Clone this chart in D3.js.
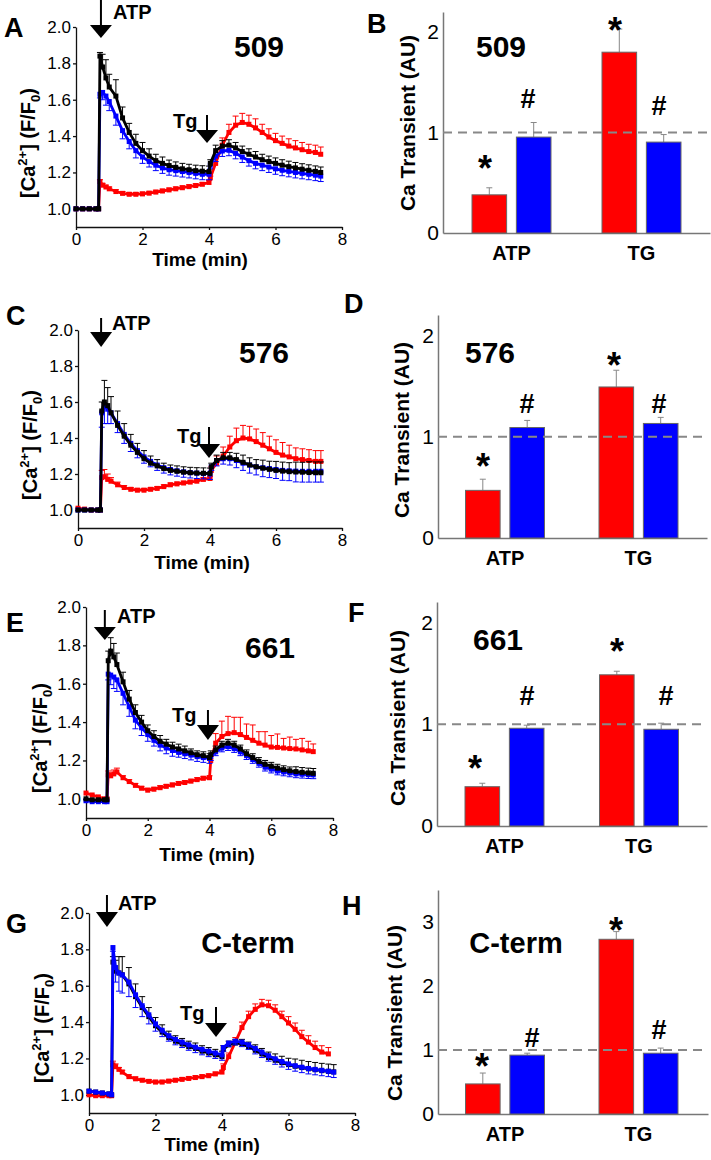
<!DOCTYPE html>
<html><head><meta charset="utf-8">
<script src="https://cdn.jsdelivr.net/npm/d3@7"></script>
<style>body{margin:0;background:#fff}svg{display:block}</style>
</head><body>
<svg id="c" width="711" height="1160"></svg>
<script>
// ---------- DATA ----------
const times = [0,0.2,0.4,0.6,0.68,0.72,0.8,0.9,1.0,1.2,1.4,1.6,1.8,2.0,2.2,2.4,2.6,2.8,3.0,3.2,3.4,3.6,3.8,4.0,4.04,4.2,4.4,4.6,4.8,5.0,5.2,5.4,5.6,5.8,6.0,6.2,6.4,6.6,6.8,7.0,7.2,7.36];
const yTicksLine = [1.0,1.2,1.4,1.6,1.8,2.0];
const xTicksLine = [0,2,4,6,8];

// Panel A (509)
const a509Black = [1.0,1.0,1.0,1.0,1.0, 1.84,1.78,1.72, 1.67,1.62,1.50,1.42,1.36,1.32,1.29,1.265,1.25,1.238,1.228,1.22,1.215,1.21,1.207,1.205, 1.25, 1.32,1.345,1.35,1.335,1.315,1.30,1.285,1.27,1.26,1.25,1.24,1.232,1.225,1.218,1.212,1.206, 1.20];
const a509BlackErr = [0,0,0,0,0, 0.02,0.07,0.10, 0.07,0.09,0.06,0.05,0.05,0.045,0.04,0.035,0.035,0.03,0.03,0.03,0.03,0.03,0.03,0.03, 0.02, 0.03,0.03,0.03,0.03,0.03,0.03,0.03,0.03,0.03,0.03,0.03,0.03,0.03,0.03,0.03,0.03, 0.03];
const a509Blue = [1.0,1.0,1.0,1.0,1.0, 1.63,1.64,1.62, 1.59,1.51,1.43,1.37,1.32,1.285,1.26,1.24,1.225,1.215,1.21,1.205,1.20,1.195,1.19,1.19, 1.24, 1.29,1.318,1.322,1.305,1.285,1.265,1.25,1.24,1.23,1.22,1.212,1.206,1.2,1.195,1.19,1.185, 1.18];
const a509BlueErr = [0,0,0,0,0, 0.02,0.04,0.05, 0.05,0.05,0.045,0.04,0.04,0.035,0.03,0.03,0.03,0.03,0.03,0.03,0.03,0.03,0.03,0.03, 0.02, 0.03,0.03,0.03,0.03,0.03,0.03,0.03,0.03,0.03,0.03,0.03,0.03,0.03,0.03,0.03,0.03, 0.03];
const a509Red = [1.0,1.0,1.0,1.0,1.0, 1.15,1.13,1.12, 1.11,1.095,1.085,1.08,1.08,1.082,1.086,1.092,1.098,1.104,1.11,1.116,1.122,1.128,1.135,1.145, 1.17, 1.25,1.35,1.42,1.46,1.475,1.465,1.445,1.42,1.395,1.375,1.36,1.345,1.335,1.325,1.315,1.31, 1.30];
const a509RedErr = [0,0,0,0,0, 0.01,0.01,0.01, 0.01,0.01,0.01,0.01,0.01,0.01,0.01,0.01,0.01,0.01,0.01,0.01,0.01,0.01,0.01,0.01, 0.01, 0.03,0.04,0.045,0.05,0.05,0.05,0.05,0.045,0.045,0.04,0.04,0.04,0.04,0.04,0.04,0.04, 0.04];

// Panel C (576)
const c576Black = [1.0,1.0,1.0,1.0,1.0, 1.55,1.60,1.58, 1.54,1.47,1.41,1.36,1.32,1.285,1.26,1.245,1.23,1.22,1.215,1.21,1.207,1.205,1.204,1.203, 1.24, 1.275,1.29,1.29,1.28,1.265,1.25,1.24,1.232,1.226,1.22,1.216,1.213,1.211,1.21,1.208,1.207, 1.207];
const c576BlackErr = [0,0,0,0,0, 0.05,0.12,0.10, 0.09,0.08,0.07,0.06,0.05,0.045,0.04,0.035,0.03,0.03,0.03,0.03,0.03,0.03,0.03,0.03, 0.02, 0.03,0.03,0.03,0.035,0.04,0.04,0.04,0.045,0.045,0.05,0.05,0.05,0.055,0.055,0.06,0.06, 0.06];
const c576Blue = [1.0,1.0,1.0,1.0,1.0, 1.54,1.58,1.56, 1.54,1.48,1.42,1.37,1.33,1.295,1.27,1.25,1.235,1.225,1.218,1.212,1.208,1.205,1.203,1.20, 1.24, 1.275,1.285,1.285,1.275,1.26,1.25,1.24,1.235,1.23,1.225,1.22,1.218,1.216,1.215,1.215,1.215, 1.215];
const c576BlueErr = [0,0,0,0,0, 0.08,0.10,0.08, 0.06,0.05,0.05,0.045,0.04,0.035,0.03,0.03,0.03,0.03,0.03,0.03,0.03,0.03,0.03,0.03, 0.02, 0.03,0.03,0.035,0.04,0.04,0.045,0.045,0.05,0.05,0.05,0.055,0.055,0.06,0.06,0.06,0.06, 0.06];
const c576Red = [1.01,1.005,1.0,1.0,1.0, 1.18,1.185,1.17, 1.16,1.14,1.125,1.115,1.11,1.11,1.115,1.12,1.13,1.14,1.145,1.15,1.155,1.16,1.17,1.175, 1.22, 1.26,1.30,1.35,1.385,1.40,1.395,1.38,1.36,1.34,1.32,1.305,1.295,1.285,1.28,1.275,1.27, 1.27];
const c576RedErr = [0,0,0,0,0, 0.04,0.04,0.03, 0.02,0.015,0.01,0.01,0.01,0.01,0.01,0.01,0.01,0.01,0.01,0.01,0.01,0.01,0.01,0.01, 0.02, 0.04,0.05,0.06,0.07,0.07,0.07,0.07,0.07,0.07,0.07,0.07,0.065,0.06,0.06,0.06,0.06, 0.06];

// Panel E (661)
const e661Black = [1.0,0.995,0.995,0.995,0.995, 1.72,1.77,1.74, 1.70,1.61,1.52,1.45,1.40,1.355,1.325,1.30,1.285,1.27,1.26,1.25,1.24,1.23,1.225,1.215, 1.23, 1.255,1.28,1.29,1.28,1.26,1.235,1.215,1.195,1.18,1.17,1.16,1.152,1.146,1.142,1.138,1.135, 1.133];
const e661BlackErr = [0,0,0,0,0, 0.05,0.07,0.07, 0.06,0.05,0.045,0.04,0.035,0.03,0.03,0.03,0.025,0.025,0.025,0.025,0.02,0.02,0.02,0.02, 0.02, 0.02,0.02,0.02,0.02,0.02,0.02,0.02,0.02,0.02,0.02,0.02,0.02,0.02,0.025,0.025,0.025, 0.025];
const e661Blue = [0.99,0.985,0.985,0.985,0.985, 1.65,1.645,1.635, 1.62,1.55,1.48,1.41,1.37,1.335,1.305,1.28,1.265,1.252,1.242,1.235,1.228,1.22,1.215,1.21, 1.22, 1.245,1.265,1.272,1.262,1.245,1.225,1.205,1.185,1.165,1.155,1.145,1.14,1.135,1.13,1.128,1.126, 1.125];
const e661BlueErr = [0,0,0,0,0, 0.03,0.05,0.06, 0.06,0.06,0.05,0.045,0.04,0.035,0.03,0.03,0.03,0.03,0.025,0.025,0.025,0.025,0.025,0.025, 0.02, 0.02,0.02,0.02,0.02,0.02,0.02,0.02,0.02,0.02,0.02,0.02,0.02,0.02,0.02,0.02,0.02, 0.02];
const e661Red = [1.03,1.02,1.01,1.0,1.0, 1.125,1.12,1.13, 1.14,1.11,1.09,1.07,1.055,1.045,1.05,1.058,1.065,1.072,1.08,1.085,1.092,1.10,1.107,1.11, 1.20, 1.29,1.325,1.34,1.345,1.335,1.32,1.305,1.29,1.28,1.27,1.268,1.265,1.262,1.26,1.255,1.25, 1.246];
const e661RedErr = [0,0,0,0,0, 0.02,0.015,0.02, 0.02,0.01,0.01,0.01,0.01,0.01,0.01,0.01,0.01,0.01,0.01,0.01,0.01,0.01,0.01,0.01, 0.02, 0.05,0.08,0.09,0.08,0.09,0.07,0.08,0.06,0.07,0.06,0.07,0.05,0.06,0.05,0.06,0.05, 0.04];

// Panel G (C-term)
const gCtBlack = [1.02,1.015,1.01,1.005,1.0, 1.73,1.68,1.67, 1.66,1.61,1.54,1.48,1.43,1.38,1.345,1.315,1.295,1.28,1.265,1.255,1.24,1.23,1.22,1.21, 1.25, 1.275,1.285,1.28,1.265,1.245,1.225,1.205,1.19,1.177,1.166,1.157,1.15,1.143,1.138,1.133,1.129, 1.126];
const gCtBlackErr = [0,0,0,0,0, 0.03,0.06,0.09, 0.10,0.09,0.07,0.06,0.05,0.045,0.04,0.035,0.03,0.03,0.03,0.03,0.03,0.03,0.03,0.03, 0.02, 0.02,0.02,0.025,0.025,0.03,0.03,0.03,0.035,0.035,0.035,0.04,0.04,0.04,0.04,0.04,0.04, 0.04];
const gCtBlue = [1.02,1.015,1.01,1.005,1.0, 1.81,1.70,1.67, 1.66,1.62,1.55,1.49,1.44,1.39,1.355,1.325,1.305,1.29,1.275,1.262,1.25,1.24,1.23,1.22, 1.26, 1.285,1.295,1.29,1.275,1.255,1.235,1.215,1.198,1.183,1.17,1.16,1.152,1.145,1.14,1.135,1.13, 1.125];
const gCtBlueErr = [0,0,0,0,0, 0.02,0.08,0.10, 0.10,0.08,0.07,0.06,0.05,0.04,0.035,0.03,0.03,0.03,0.03,0.03,0.03,0.03,0.03,0.03, 0.02, 0.02,0.02,0.025,0.025,0.03,0.03,0.03,0.03,0.03,0.03,0.03,0.03,0.03,0.03,0.03,0.03, 0.03];
const gCtRed = [1.0,0.995,0.995,0.995,0.995, 1.165,1.155,1.14, 1.125,1.10,1.088,1.08,1.074,1.07,1.07,1.075,1.08,1.085,1.09,1.095,1.10,1.105,1.115,1.125, 1.15, 1.21,1.29,1.37,1.43,1.47,1.495,1.49,1.465,1.43,1.395,1.36,1.32,1.29,1.26,1.235,1.225, null];
const gCtRedErr = [0,0,0,0,0, 0.02,0.015,0.01, 0.01,0.01,0.01,0.01,0.01,0.01,0.01,0.01,0.01,0.01,0.01,0.01,0.01,0.01,0.01,0.01, 0.02, 0.02,0.025,0.03,0.03,0.03,0.03,0.03,0.03,0.03,0.035,0.035,0.035,0.035,0.035,0.035,0.035, 0];

// Bar charts
const barGroups = ["ATP","TG"];
const b509Red = [0.38, 1.80], b509RedErr = [0.07, 0.23];
const b509Blue = [0.955, 0.905], b509BlueErr = [0.145, 0.075];
const d576Red = [0.47, 1.49], d576RedErr = [0.11, 0.165];
const d576Blue = [1.09, 1.13], d576BlueErr = [0.07, 0.06];
const f661Red = [0.386, 1.485], f661RedErr = [0.034, 0.035];
const f661Blue = [0.96, 0.95], f661BlueErr = [0.03, 0.06];
const hCtRed = [0.47, 2.73], hCtRedErr = [0.17, 0.12];
const hCtBlue = [0.92, 0.95], hCtBlueErr = [0.03, 0.08];
const barTicks3 = [0,1,2], barTicks4 = [0,1,2,3];

// ---------- DRAWING ----------
const FONT = '"Liberation Sans", Arial, Helvetica, sans-serif';
const RED = '#ff0000', BLUE = '#0000ff', BLACK = '#000000';
const svg = d3.select('#c');

function txt(g, x, y, s, size, weight, anchor) {
  return g.append('text').attr('x', x).attr('y', y).text(s)
    .attr('font-family', FONT).attr('font-size', size).attr('font-weight', weight || 'normal')
    .attr('text-anchor', anchor || 'start').attr('fill', '#000');
}
function star(g, cx, cy) { txt(g, cx, cy + 0.58 * 36, '*', 36, 'bold', 'middle'); }
function hash(g, cx, cy) { txt(g, cx, cy + 0.36 * 27, '#', 27, 'bold', 'middle'); }

function arrow(g, xp, top, base, tip) {
  g.append('line').attr('x1', xp).attr('x2', xp).attr('y1', top).attr('y2', base + 1)
    .attr('stroke', '#000').attr('stroke-width', 2);
  g.append('path').attr('d', `M${xp - 11},${base}L${xp + 11},${base}L${xp},${tip}Z`).attr('fill', '#000');
}

function drawLinePanel(L, series) {
  const g = svg.append('g');
  const x = d3.scaleLinear().domain([0, 8]).range([L.x0, L.x8]);
  const y = d3.scaleLinear().domain([0.9, 2.0]).range([L.yBot, L.yTop]);
  const ya = g.append('g').attr('transform', `translate(${L.x0},0)`)
    .call(d3.axisLeft(y).tickValues(yTicksLine).tickFormat(d3.format('.1f')).tickSize(3).tickSizeOuter(0).tickPadding(2));
  const xa = g.append('g').attr('transform', `translate(0,${L.yBot})`)
    .call(d3.axisBottom(x).tickValues(xTicksLine).tickFormat(d3.format('d')).tickSize(3).tickSizeOuter(0).tickPadding(3));
  [ya, xa].forEach(a => {
    a.attr('font-family', FONT).attr('font-size', 17);
    a.selectAll('path,line').attr('stroke', '#111').attr('stroke-width', 1.3);
    a.selectAll('text').attr('fill', '#000');
  });
  series.forEach(s => {
    const pts = times.map((t, i) => ({ t, v: s.values[i], e: s.err[i] })).filter(p => p.v != null);
    const dir = s.down ? -1 : 1;
    const eb = g.append('g').attr('stroke', s.color).attr('stroke-width', 1);
    pts.filter(p => p.e > 0).forEach(p => {
      const xx = x(p.t), y2 = y(p.v + dir * p.e);
      eb.append('line').attr('x1', xx).attr('x2', xx).attr('y1', y(p.v)).attr('y2', y2);
      eb.append('line').attr('x1', xx - 3).attr('x2', xx + 3).attr('y1', y2).attr('y2', y2);
    });
    g.append('path').datum(pts)
      .attr('d', d3.line().x(p => x(p.t)).y(p => y(p.v)))
      .attr('fill', 'none').attr('stroke', s.color).attr('stroke-width', 2.8);
    g.append('g').selectAll('rect').data(pts).join('rect')
      .attr('x', p => x(p.t) - 2.5).attr('y', p => y(p.v) - 2.5)
      .attr('width', 5).attr('height', 5).attr('fill', s.color);
  });
  // labels
  txt(g, L.letter[0], L.letter[1], L.letterText, 27, 'bold');
  txt(g, L.title[0], L.title[1], L.titleText, L.titleSize || 30, 'bold', 'middle');
  txt(g, L.xlab[0], L.xlab[1], 'Time (min)', 19, 'bold', 'middle');
  const yl = g.append('text').attr('transform', `translate(${L.ylab[0] + 7},${L.ylab[1]}) rotate(-90)`)
    .attr('text-anchor', 'middle').attr('font-family', FONT).attr('font-size', 20).attr('font-weight', 'bold');
  yl.append('tspan').text('[Ca');
  yl.append('tspan').text('2+').attr('font-size', 13).attr('dy', -8);
  yl.append('tspan').text('] (F/F').attr('dy', 8);
  yl.append('tspan').text('0').attr('font-size', 13).attr('dy', 5);
  yl.append('tspan').text(')').attr('dy', -5);
  // ATP and Tg arrows
  arrow(g, x(L.atp.t), L.atp.top, L.atp.base, L.atp.tip);
  txt(g, L.atp.tx, L.atp.ty, 'ATP', 20, 'bold');
  arrow(g, x(L.tg.t), L.tg.top, L.tg.base, L.tg.tip);
  txt(g, L.tg.tx, L.tg.ty, 'Tg', 20, 'bold');
}

function drawBarPanel(L, red, redErr, blue, blueErr, ticks) {
  const g = svg.append('g');
  const y = d3.scaleLinear().domain([0, L.ymax]).range([L.y0, L.top]);
  const x = d3.scalePoint().domain(barGroups).range([L.atpC, L.tgC]);
  const sub = d3.scaleBand().domain(['red', 'blue']).range([-39.5, 39.5]).paddingInner(0.22);
  const ya = g.append('g').attr('transform', `translate(${L.yAxisX},0)`)
    .call(d3.axisLeft(y).tickValues(ticks).tickFormat(d3.format('d')).tickSize(0).tickSizeOuter(0).tickPadding(4));
  ya.attr('font-family', FONT).attr('font-size', 21);
  ya.selectAll('path').attr('stroke', '#777').attr('stroke-width', 1.5);
  ya.selectAll('text').attr('fill', '#000');
  const xa = g.append('g').attr('transform', `translate(0,${L.y0})`)
    .call(d3.axisBottom(d3.scaleLinear().range([L.yAxisX, L.xEnd])).tickValues([]).tickSizeOuter(0));
  xa.selectAll('path').attr('stroke', '#777').attr('stroke-width', 1.5);
  const rows = [];
  barGroups.forEach((c, i) => {
    rows.push({ c, s: 'red', v: red[i], e: redErr[i], col: RED });
    rows.push({ c, s: 'blue', v: blue[i], e: blueErr[i], col: BLUE });
  });
  rows.forEach(r => {
    const bx = x(r.c) + sub(r.s), bw = sub.bandwidth(), cx = bx + bw / 2;
    const et = y(r.v + r.e);
    g.append('line').attr('x1', cx).attr('x2', cx).attr('y1', y(r.v)).attr('y2', et).attr('stroke', '#888').attr('stroke-width', 1);
    g.append('line').attr('x1', cx - 3).attr('x2', cx + 3).attr('y1', et).attr('y2', et).attr('stroke', '#888').attr('stroke-width', 1);
    g.append('rect').attr('x', bx).attr('y', y(r.v)).attr('width', bw).attr('height', y(0) - y(r.v))
      .attr('fill', r.col).attr('stroke', '#666').attr('stroke-width', 1);
  });
  g.append('line').attr('x1', L.yAxisX).attr('x2', L.xEnd).attr('y1', y(1)).attr('y2', y(1))
    .attr('stroke', '#888').attr('stroke-width', 2).attr('stroke-dasharray', '9,6');
  barGroups.forEach(c => txt(g, x(c), L.y0 + 27, c, 20, 'bold', 'middle'));
  star(g, L.ann[0][0], L.ann[0][1]);
  hash(g, L.ann[1][0], L.ann[1][1]);
  star(g, L.ann[2][0], L.ann[2][1]);
  hash(g, L.ann[3][0], L.ann[3][1]);
  txt(g, L.letter[0], L.letter[1], L.letterText, 27, 'bold');
  txt(g, L.title[0], L.title[1], L.titleText, L.titleSize || 30, 'bold', 'middle');
  txt(g, 0, 0, 'Ca Transient (AU)', 21, 'bold', 'middle')
    .attr('transform', `translate(${L.ylab[0] + 7},${L.ylab[1]}) rotate(-90)`);
}

// ---------- LAYOUT ----------
const S = (values, err, color, down) => ({ values, err, color, down });

drawLinePanel({ x0: 76, x8: 342, yBot: 227, yTop: 27, letter: [4, 37], letterText: 'A', title: [259, 57], titleText: '509',
  xlab: [200, 266], ylab: [28, 143],
  atp: { t: 0.75, top: 0, base: 25, tip: 38, tx: 113, ty: 19 },
  tg: { t: 3.94, top: 115, base: 130, tip: 143, tx: 173, ty: 128 } },
  [S(a509Red, a509RedErr, RED), S(a509Blue, a509BlueErr, BLUE, true), S(a509Black, a509BlackErr, BLACK)]);

drawLinePanel({ x0: 78, x8: 342, yBot: 528, yTop: 330, letter: [6, 325], letterText: 'C', title: [264, 363], titleText: '576',
  xlab: [202, 569], ylab: [30, 445],
  atp: { t: 0.70, top: 318, base: 332, tip: 347, tx: 112, ty: 330 },
  tg: { t: 3.97, top: 427, base: 444, tip: 458, tx: 177, ty: 443 } },
  [S(c576Red, c576RedErr, RED), S(c576Blue, c576BlueErr, BLUE, true), S(c576Black, c576BlackErr, BLACK)]);

drawLinePanel({ x0: 86, x8: 333, yBot: 818, yTop: 607, letter: [6, 632], letterText: 'E', title: [270, 658], titleText: '661',
  xlab: [207, 861], ylab: [40, 738],
  atp: { t: 0.61, top: 610, base: 627, tip: 640, tx: 117, ty: 623 },
  tg: { t: 3.95, top: 710, base: 725, tip: 740, tx: 172, ty: 722 } },
  [S(e661Red, e661RedErr, RED), S(e661Blue, e661BlueErr, BLUE, true), S(e661Black, e661BlackErr, BLACK)]);

drawLinePanel({ x0: 89, x8: 355, yBot: 1113, yTop: 913, letter: [6, 933], letterText: 'G', title: [248, 953], titleText: 'C-term', titleSize: 29,
  xlab: [212, 1151], ylab: [42, 1028],
  atp: { t: 0.54, top: 895, base: 912, tip: 927, tx: 118, ty: 910 },
  tg: { t: 3.82, top: 1007, base: 1023, tip: 1037, tx: 180, ty: 1020 } },
  [S(gCtRed, gCtRedErr, RED), S(gCtBlack, gCtBlackErr, BLACK), S(gCtBlue, gCtBlueErr, BLUE, true)]);

drawBarPanel({ yAxisX: 443, y0: 233, top: 12, ymax: 2.2, xEnd: 710, atpC: 511.5, tgC: 641.5,
  ann: [[485, 160], [528, 98], [615, 22], [659, 105]], letter: [367, 33], letterText: 'B',
  title: [501, 57], titleText: '509', ylab: [408, 123] }, b509Red, b509RedErr, b509Blue, b509BlueErr, barTicks3);

drawBarPanel({ yAxisX: 438, y0: 538, top: 315, ymax: 2.2, xEnd: 707, atpC: 505, tgC: 638.5,
  ann: [[483, 458], [527, 403], [614, 357], [659, 403]], letter: [344, 313], letterText: 'D',
  title: [490, 363], titleText: '576', ylab: [402, 430] }, d576Red, d576RedErr, d576Blue, d576BlueErr, barTicks3);

drawBarPanel({ yAxisX: 437, y0: 826, top: 602, ymax: 2.2, xEnd: 707, atpC: 504.5, tgC: 639,
  ann: [[475, 760], [527, 695], [617, 643], [666, 695]], letter: [348, 622], letterText: 'F',
  title: [498, 650], titleText: '661', ylab: [398, 718] }, f661Red, f661RedErr, f661Blue, f661BlueErr, barTicks3);

drawBarPanel({ yAxisX: 438, y0: 1114, top: 890, ymax: 3.5, xEnd: 708, atpC: 505, tgC: 638.5,
  ann: [[482, 1058], [532, 1037], [616, 922], [659, 1029]], letter: [342, 915], letterText: 'H',
  title: [516, 953], titleText: 'C-term', titleSize: 29, ylab: [395, 1013] }, hCtRed, hCtRedErr, hCtBlue, hCtBlueErr, barTicks4);
</script>
</body></html>
